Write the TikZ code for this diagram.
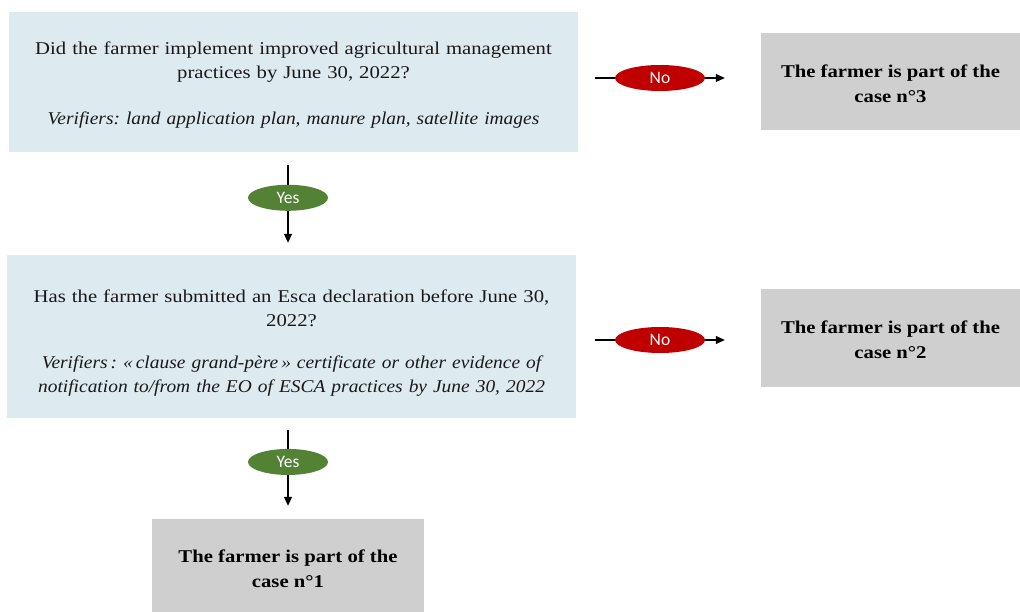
\documentclass[tikz,border=0pt]{standalone}
\usepackage{fontspec}
\setmainfont{Liberation Serif}[FakeStretch=1.15, ItalicFeatures={FakeStretch=1.08}]
\newfontfamily\labelfont{Carlito}
\usetikzlibrary{shapes.geometric,arrows.meta,calc}
\frenchspacing
\definecolor{qblue}{RGB}{221,234,240}
\definecolor{casegray}{RGB}{208,207,207}
\definecolor{yesgreen}{RGB}{84,130,53}
\definecolor{nored}{RGB}{192,0,0}
\tikzset{
  qbox/.style={fill=qblue, minimum width=569pt, inner sep=0pt},
  qtext/.style={text width=560pt, align=center, inner sep=0pt,
    font=\fontsize{18}{24}\selectfont, text=black!90},
  casebox/.style={fill=casegray, inner sep=0pt},
  casetext/.style={align=center, inner sep=0pt,
    font=\fontsize{18}{25}\selectfont\bfseries, text=black},
  answer/.style={ellipse, inner sep=0pt, minimum height=26pt, text=white,
    font=\labelfont\fontsize{17.5}{17.5}\selectfont},
  yesnode/.style={answer, fill=yesgreen, minimum width=80pt},
  nonode/.style={answer, fill=nored, minimum width=90pt},
  flow/.style={line width=1.1pt, draw=black, -{Triangle[length=9pt,width=8pt]}}
}
\begin{document}
\begin{tikzpicture}[x=1pt,y=-1pt]
\useasboundingbox (0,0) rectangle (1020,612);
\fill[white] (0,0) rectangle (1020,612);

% question boxes and their texts
\node[qbox, minimum height=140pt] (q1) at (293.5,82) {};
\node[qtext] (q1t) at ($(q1.center)+(0,3)$)
  {Did the farmer implement improved agricultural management\\
   practices by June 30, 2022?\\[22pt]
   \itshape Verifiers: land application plan, manure plan, satellite images};
\node[qbox, minimum height=163pt] (q2) at (291.5,336.5) {};
\node[qtext] (q2t) at ($(q2.center)+(0,7)$)
  {Has the farmer submitted an Esca declaration before June 30,\\
   2022?\\[18pt]
   \itshape Verifiers\,: «\,clause grand-père\,» certificate or other evidence of\\
   \itshape notification to/from the EO of ESCA practices by June 30, 2022};

% outcome boxes and their texts
\node[casebox, minimum width=259pt, minimum height=97pt] (c3) at (890.5,81.5) {};
\node[casetext] (c3t) at ($(c3.center)+(0,2)$) {The farmer is part of the\\case n°3};
\node[casebox, minimum width=259pt, minimum height=98pt] (c2) at (890.5,338) {};
\node[casetext] (c2t) at ($(c2.center)+(0,2)$) {The farmer is part of the\\case n°2};
\node[casebox, minimum width=272pt, minimum height=93pt] (c1) at (288,565.5) {};
\node[casetext] (c1t) at ($(c1.center)+(0,3)$) {The farmer is part of the\\case n°1};

% connector end points
\coordinate (n1a) at ($(q1.east |- 0,78)+(17,0)$);
\coordinate (n1b) at ($(c3.west |- 0,78)+(-36,0)$);
\coordinate (n2a) at ($(q2.east |- 0,340)+(19,0)$);
\coordinate (n2b) at ($(c2.west |- 0,340)+(-36,0)$);
\coordinate (y1a) at ($(288,0 |- q1.south)+(0,13)$);
\coordinate (y1b) at ($(288,0 |- q2.north)+(0,-12)$);
\coordinate (y2a) at ($(288,0 |- q2.south)+(0,12)$);
\coordinate (y2b) at ($(288,0 |- c1.north)+(0,-13)$);

% connectors with answer labels
\draw[flow] (n1a) -- node[nonode] {No} (n1b);
\draw[flow] (n2a) -- node[nonode] {No} (n2b);
\draw[flow] (y1a) -- node[yesnode, pos=0.42] {Yes} (y1b);
\draw[flow] (y2a) -- node[yesnode, pos=0.42] {Yes} (y2b);
\end{tikzpicture}
\end{document}
